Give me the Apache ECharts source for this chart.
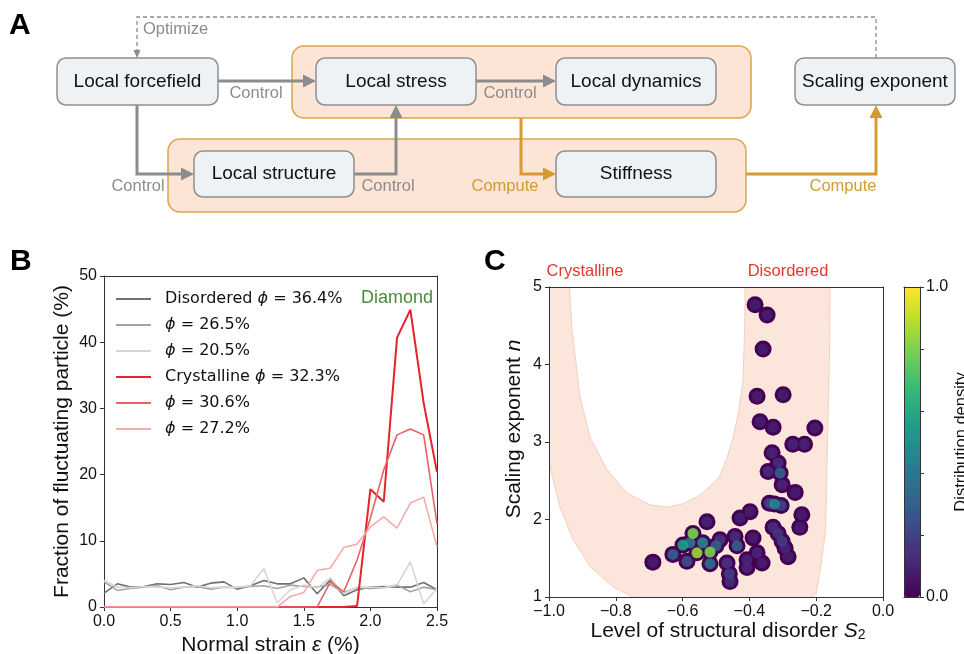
<!DOCTYPE html>
<html lang="en">
<head>
	<meta charset="UTF-8">
	<title>Scaling exponent figure</title>
	<style>
		html, body { margin: 0; padding: 0; background: #fff; }
		#main { width: 964px; height: 654px; }
	</style>
</head>
<body>
	<div id="main"></div>
	<script src="https://cdn.jsdelivr.net/npm/echarts@6.0.0/dist/echarts.min.js"></script>
	<script>
		// ---------- panel B: fraction of fluctuating particles vs strain ----------
		var strain = [0.0, 0.1, 0.2, 0.3, 0.4, 0.5, 0.6, 0.7, 0.8, 0.9, 1.0, 1.1, 1.2,
			1.3, 1.4, 1.5, 1.6, 1.7, 1.8, 1.9, 2.0, 2.1, 2.2, 2.3, 2.4, 2.5];

		var dis364 = [2.1, 3.5, 3.0, 3.1, 3.5, 3.4, 3.7, 3.0, 3.6, 3.8, 2.7, 3.2, 4.0,
			3.5, 3.5, 4.4, 2.0, 4.1, 1.7, 2.6, 3.0, 3.1, 3.0, 3.0, 3.7, 2.6];
		var dis265 = [3.8, 2.5, 2.8, 3.0, 3.2, 2.6, 3.0, 3.1, 2.7, 3.0, 2.9, 3.1, 3.2,
			2.8, 3.3, 3.1, 3.0, 3.4, 2.2, 2.9, 2.8, 2.9, 3.3, 2.3, 3.0, 2.6];
		var dis205 = [4.0, 3.0, 2.9, 3.1, 3.0, 2.9, 3.0, 3.2, 2.9, 3.0, 3.0, 3.2, 5.8,
			0.6, 2.6, 3.3, 2.9, 4.4, 2.0, 3.0, 3.0, 2.9, 3.3, 6.8, 0.5, 2.8];
		var cry323 = [0, 0, 0, 0, 0, 0, 0, 0, 0, 0, 0, 0, 0,
			0, 0, 0, 0, 0, 0, 0.15, 17.8, 15.9, 40.7, 44.9, 30.8, 20.4];
		var cry306 = [0, 0, 0, 0, 0, 0, 0, 0, 0, 0, 0, 0, 0,
			0, 0, 0, 0, 3.8, 2.3, 7.1, 13.4, 20.7, 26.0, 26.9, 26.0, 12.6];
		var cry272 = [0, 0, 0, 0, 0, 0, 0, 0, 0, 0, 0, 0, 0,
			0, 1.6, 2.2, 5.5, 5.9, 9.0, 9.5, 12.1, 13.6, 11.9, 15.7, 16.6, 9.1];

		var lineNames = ['Disordered ϕ = 36.4%', 'ϕ = 26.5%', 'ϕ = 20.5%',
			'Crystalline ϕ = 32.3%', 'ϕ = 30.6%', 'ϕ = 27.2%'];
		var lineValues = [dis364, dis265, dis205, cry323, cry306, cry272];
		var lineColors = ['#707070', '#a3a3a3', '#d6d6d6', '#e3242b', '#ec5f62', '#f6abac'];
		var lineWidths = [1.6, 1.6, 1.6, 2, 1.6, 1.6];

		// ---------- panel C: scaling exponent vs structural disorder ----------
		// boundary of the shaded band [S2, n]: outer curve, then inner curve back up
		var bandOuter = [[-1.06, 5.3], [-1.02, 3.3], [-0.997, 2.68], [-0.967, 2.16], [-0.928, 1.74],
			[-0.877, 1.39], [-0.808, 1.13], [-0.749, 1.0], [-0.7, 0.9], [-0.45, 0.8], [-0.23, 0.9],
			[-0.2, 1.05], [-0.186, 1.4], [-0.172, 1.86], [-0.166, 3.0], [-0.16, 4.2], [-0.158, 5.3]];
		var bandInner = [[-0.412, 5.3], [-0.414, 4.5], [-0.419, 3.8], [-0.432, 3.4], [-0.449, 3.05],
			[-0.467, 2.8], [-0.49, 2.55], [-0.52, 2.42], [-0.55, 2.31], [-0.6, 2.2], [-0.647, 2.16],
			[-0.698, 2.19], [-0.766, 2.34], [-0.826, 2.64], [-0.877, 3.06], [-0.907, 3.58],
			[-0.931, 4.45], [-0.943, 5.3]];

		// blob centres [S2, n, density]
		var blobs = [
			[-0.383, 4.77, 0.08], [-0.347, 4.64, 0.08], [-0.359, 4.20, 0.08], [-0.377, 3.59, 0.08],
			[-0.299, 3.61, 0.08], [-0.368, 3.26, 0.08], [-0.329, 3.19, 0.08], [-0.204, 3.18, 0.08],
			[-0.27, 2.97, 0.1], [-0.235, 2.97, 0.1],
			[-0.332, 2.86, 0.1], [-0.314, 2.73, 0.12], [-0.344, 2.62, 0.12], [-0.308, 2.60, 0.3],
			[-0.302, 2.45, 0.1], [-0.263, 2.35, 0.08],
			[-0.34, 2.21, 0.2], [-0.325, 2.20, 0.45], [-0.305, 2.18, 0.2],
			[-0.243, 2.06, 0.08], [-0.249, 1.90, 0.08],
			[-0.398, 2.10, 0.08], [-0.428, 2.02, 0.08],
			[-0.329, 1.90, 0.12], [-0.314, 1.82, 0.15], [-0.302, 1.72, 0.18], [-0.293, 1.63, 0.1],
			[-0.284, 1.52, 0.08], [-0.389, 1.76, 0.08],
			[-0.443, 1.78, 0.12], [-0.437, 1.66, 0.3],
			[-0.407, 1.48, 0.1], [-0.407, 1.38, 0.1], [-0.377, 1.57, 0.1], [-0.362, 1.44, 0.08],
			[-0.467, 1.44, 0.15], [-0.46, 1.30, 0.18], [-0.458, 1.20, 0.12], [-0.488, 1.74, 0.15],
			[-0.689, 1.45, 0.08],
			[-0.629, 1.55, 0.3], [-0.599, 1.67, 0.55], [-0.569, 1.82, 0.8], [-0.578, 1.70, 0.4],
			[-0.527, 1.97, 0.1], [-0.557, 1.57, 0.85], [-0.518, 1.58, 0.8], [-0.518, 1.43, 0.35],
			[-0.587, 1.46, 0.25], [-0.54, 1.70, 0.45], [-0.50, 1.66, 0.3]
		];

		var viridis = ['#440154', '#482878', '#3e4989', '#31688e', '#26828e',
			'#1f9e89', '#35b779', '#6ece58', '#b5de2b', '#fde725'];

		// ---------- panel A: flow diagram ----------
		var diagramNodes = ['Local forcefield', 'Local stress', 'Local dynamics',
			'Scaling exponent', 'Local structure', 'Stiffness'];

		var FONT = '"Liberation Sans", Arial, sans-serif';
		var GRAY = '#8c8c8c', GOLD = '#d39b30';

		function txt(x, y, s, size, color, align, weight) {
			return {
				type: 'text', x: x, y: y, z: 20,
				style: {
					text: s, fill: color, font: (weight || 'normal') + ' ' + size + 'px ' + FONT,
					align: align || 'center', verticalAlign: 'middle',
					textAlign: align || 'center', textVerticalAlign: 'middle'
				}
			};
		}

		function arrow(pts, color, w, dashed, hl, hw) {
			var n = pts.length, a = pts[n - 2], b = pts[n - 1];
			var dx = b[0] - a[0], dy = b[1] - a[1], len = Math.sqrt(dx * dx + dy * dy);
			var ux = dx / len, uy = dy / len;
			var base = [b[0] - ux * hl, b[1] - uy * hl];
			return [
				{type: 'polyline', z: 12, shape: {points: pts.slice(0, n - 1).concat([base])},
					style: {stroke: color, lineWidth: w, fill: null, lineDash: dashed ? [4, 3] : null}},
				{type: 'polygon', z: 12, shape: {points: [b,
					[base[0] - uy * hw / 2, base[1] + ux * hw / 2],
					[base[0] + uy * hw / 2, base[1] - ux * hw / 2]]},
					style: {fill: color}}
			];
		}

		var els = [];
		// orange groups
		[[292, 46, 459, 72], [168, 139, 578, 73]].forEach(function (g) {
			els.push({type: 'rect', z: 5, shape: {x: g[0], y: g[1], width: g[2], height: g[3], r: 12},
				style: {fill: '#fce4d6', stroke: '#d9a54a', lineWidth: 1.5}});
		});
		// node boxes
		var boxPos = [[57, 58, 161, 47], [316, 58, 160, 47], [556, 58, 160, 47],
			[795, 58, 160, 47], [194, 151, 160, 46], [556, 151, 160, 46]];
		diagramNodes.forEach(function (name, i) {
			var p = boxPos[i];
			els.push({type: 'rect', z: 10, shape: {x: p[0], y: p[1], width: p[2], height: p[3], r: 9},
				style: {fill: '#eff2f4', stroke: '#8e8e8e', lineWidth: 1.5}});
			els.push(txt(p[0] + p[2] / 2, p[1] + p[3] / 2, name, 19, '#111'));
		});
		// arrows
		els = els.concat(
			arrow([[218, 81], [316, 81]], GRAY, 3, false, 13, 13),
			arrow([[137, 105], [137, 174], [194, 174]], GRAY, 3, false, 13, 13),
			arrow([[354, 174], [396, 174], [396, 105]], GRAY, 3, false, 13, 13),
			arrow([[476, 81], [556, 81]], GRAY, 3, false, 13, 13),
			arrow([[521, 118], [521, 174], [556, 174]], GOLD, 3, false, 13, 13),
			arrow([[746, 174], [876, 174], [876, 105]], GOLD, 3, false, 13, 13),
			arrow([[876, 58], [876, 17], [137, 17], [137, 58]], GRAY, 1.3, true, 8, 7)
		);
		els.push(txt(256, 93, 'Control', 16.5, GRAY));
		els.push(txt(138, 186, 'Control', 16.5, GRAY));
		els.push(txt(388, 186, 'Control', 16.5, GRAY));
		els.push(txt(510, 93, 'Control', 16.5, GRAY));
		els.push(txt(505, 186, 'Compute', 16.5, GOLD));
		els.push(txt(843, 186, 'Compute', 16.5, GOLD));
		els.push(txt(143, 29, 'Optimize', 16.5, GRAY, 'left'));
		// panel letters and annotations
		els.push(txt(9, 26, 'A', 30, '#000', 'left', 'bold'));
		els.push(txt(10, 262, 'B', 30, '#000', 'left', 'bold'));
		els.push(txt(484, 262, 'C', 30, '#000', 'left', 'bold'));
		els.push(txt(397, 298, 'Diamond', 18, '#4a8a3a'));
		els.push(txt(585, 271, 'Crystalline', 16.5, '#e8352e'));
		els.push(txt(788, 271, 'Disordered', 16.5, '#e8352e'));

		var axisCommon = {
			axisLine: {show: true, onZero: false, lineStyle: {color: '#333', width: 1}},
			axisTick: {show: true, length: 4, inside: false, lineStyle: {color: '#333'}},
			splitLine: {show: false},
			nameTextStyle: {color: '#111', fontFamily: FONT}
		};
		function ax(o) {
			var r = JSON.parse(JSON.stringify(axisCommon));
			for (var k in o) r[k] = o[k];
			return r;
		}
		function frame(o) {
			var r = ax(o);
			r.axisTick = {show: false};
			r.axisLabel = {show: false};
			return r;
		}
		var labelB = {margin: 7, fontSize: 16, color: '#111', fontFamily: FONT};
		var richName = {
			n: {fontSize: 21, fontFamily: FONT, color: '#111'},
			i: {fontSize: 21, fontFamily: FONT, fontStyle: 'italic', color: '#111'},
			sub: {fontSize: 14, fontFamily: FONT, color: '#111', verticalAlign: 'bottom', lineHeight: 12}
		};

		var series = lineNames.map(function (name, k) {
			return {
				name: name, type: 'line', xAxisIndex: 0, yAxisIndex: 0,
				data: strain.map(function (x, i) { return [x, lineValues[k][i]]; }),
				symbol: 'none', showSymbol: false, z: 2 + k,
				itemStyle: {color: lineColors[k]},
				lineStyle: {color: lineColors[k], width: lineWidths[k]}
			};
		});
		series.push({
			type: 'custom', xAxisIndex: 2, yAxisIndex: 2, clip: true, z: 1, silent: true,
			data: [[-0.5, 3]],
			renderItem: function (params, api) {
				var pts = bandOuter.concat(bandInner).map(function (p) { return api.coord(p); });
				return {type: 'polygon', shape: {points: pts},
					style: {fill: '#fce5da', stroke: '#f6cfc0', lineWidth: 1}};
			}
		});
		series.push({
			type: 'scatter', xAxisIndex: 2, yAxisIndex: 2, z: 3, silent: true,
			data: blobs, symbolSize: 17,
			itemStyle: {color: viridis[0], opacity: 1, borderWidth: 0}
		});
		series.push({
			type: 'scatter', xAxisIndex: 2, yAxisIndex: 2, z: 4, silent: true,
			data: blobs.slice().sort(function (a, b) { return a[2] - b[2]; }),
			symbolSize: 11, itemStyle: {opacity: 0.9, borderWidth: 0}
		});

		var myChart = echarts.init(document.getElementById('main'), null, {renderer: 'canvas'});
		var option = {
			animation: false,
			backgroundColor: '#fff',
			textStyle: {fontFamily: FONT},
			grid: [
				{left: 104, top: 276, width: 333, height: 331, outerBoundsMode: 'none', containLabel: false},
				{left: 549, top: 287, width: 334, height: 310, outerBoundsMode: 'none', containLabel: false},
				{left: 904, top: 287, width: 16, height: 310, outerBoundsMode: 'none', containLabel: false}
			],
			legend: {
				data: lineNames, orient: 'vertical', left: 116, top: 290, padding: 0,
				icon: 'rect', itemWidth: 35, itemHeight: 2, itemGap: 8, selectedMode: false,
				formatter: function (name) { return name.replace('ϕ', '{i|ϕ}'); },
				textStyle: {
					fontFamily: '"DejaVu Sans"', fontSize: 16, color: '#111', lineHeight: 18,
					padding: [0, 0, 0, 9],
					rich: {i: {fontFamily: '"DejaVu Sans"', fontSize: 16, fontStyle: 'italic', color: '#111'}}
				}
			},
			visualMap: {
				type: 'continuous', min: 0, max: 1, seriesIndex: 8, dimension: 2,
				calculable: false, hoverLink: false, left: 904, top: 287, padding: 0,
				itemWidth: 16, itemHeight: 310, text: null,
				inRange: {color: viridis}
			},
			xAxis: [
				ax({gridIndex: 0, type: 'value', min: 0, max: 2.5, interval: 0.5,
					name: '{n|Normal strain }{i|ε}{n| (%)}', nameLocation: 'middle', nameGap: 26,
					nameTextStyle: {rich: richName},
					axisLabel: Object.assign({}, labelB, {formatter: function (v) { return v.toFixed(1); }})}),
				frame({gridIndex: 0, type: 'value', position: 'top', min: 0, max: 2.5}),
				ax({gridIndex: 1, type: 'value', min: -1, max: 0, interval: 0.2, z: 5,
					name: '{n|Level of structural disorder }{i|S}{sub|2}', nameLocation: 'middle', nameGap: 23,
					nameTextStyle: {rich: richName, padding: [0, 0, 0, 24]},
					axisLabel: Object.assign({}, labelB, {formatter: function (v) {
						return (v < -1e-9 ? '\u2212' : '') + Math.abs(v).toFixed(1); }})}),
				frame({gridIndex: 1, type: 'value', position: 'top', min: -1, max: 0, z: 5}),
				frame({gridIndex: 2, type: 'value', min: 0, max: 1, z: 10}),
				frame({gridIndex: 2, type: 'value', position: 'top', min: 0, max: 1, z: 10})
			],
			yAxis: [
				ax({gridIndex: 0, type: 'value', min: 0, max: 50, interval: 10,
					name: 'Fraction of fluctuating particle (%)', nameLocation: 'middle', nameGap: 31,
					nameTextStyle: {fontSize: 21, color: '#111', fontFamily: FONT},
					axisLabel: labelB}),
				frame({gridIndex: 0, type: 'value', position: 'right', min: 0, max: 50}),
				ax({gridIndex: 1, type: 'value', min: 1, max: 5, interval: 1, z: 5,
					name: '{n|Scaling exponent }{i|n}', nameLocation: 'middle', nameGap: 24,
					nameTextStyle: {rich: richName, padding: [0, 0, 0, 26]},
					axisLabel: labelB}),
				frame({gridIndex: 1, type: 'value', position: 'right', min: 1, max: 5, z: 5}),
				ax({gridIndex: 2, type: 'value', position: 'right', min: 0, max: 1, interval: 0.2, z: 10,
					name: 'Distribution density', nameLocation: 'middle', nameRotate: 90, nameGap: 33,
					nameTextStyle: {fontSize: 16.5, color: '#111', fontFamily: FONT},
					axisLabel: Object.assign({}, labelB, {margin: 6, formatter: function (v) {
						return (v === 0 || v === 1) ? v.toFixed(1) : ''; }})}),
				frame({gridIndex: 2, type: 'value', position: 'left', min: 0, max: 1, z: 10})
			],
			graphic: {elements: els},
			series: series
		};

		myChart.setOption(option);
	</script>
</body>
</html>
